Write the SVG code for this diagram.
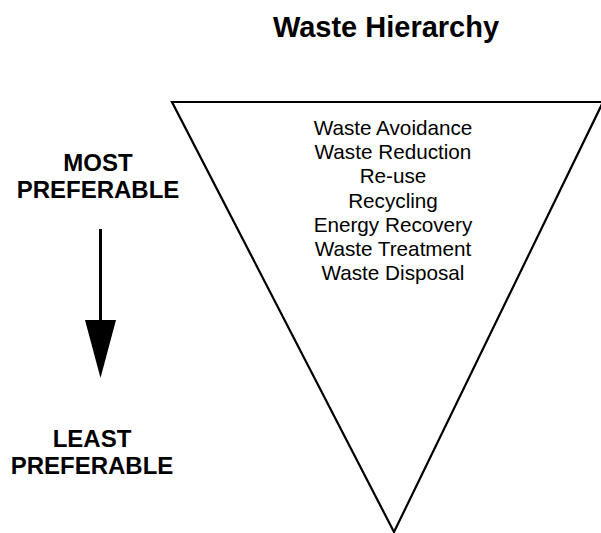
<svg xmlns="http://www.w3.org/2000/svg" width="601" height="533" viewBox="0 0 601 533">
<style>
.title{font-family:"Liberation Sans",Arial,sans-serif;font-weight:bold;font-size:29px;fill:#000;text-anchor:middle}
.side{font-family:"Liberation Sans",Arial,sans-serif;font-weight:bold;font-size:24px;fill:#000;text-anchor:middle}
.item{font-family:"Liberation Sans",Arial,sans-serif;font-size:20.7px;fill:#000;text-anchor:middle}
</style>
<rect width="601" height="533" fill="#fff"/>
<text class="title" x="386" y="37">Waste Hierarchy</text>
<g id="triangle">
<polygon points="172,102 603,102 394,532" fill="#fff" stroke="#000" stroke-width="2.2"/>
<text class="item" x="393" y="135">Waste Avoidance</text>
<text class="item" x="393" y="159">Waste Reduction</text>
<text class="item" x="393" y="183">Re-use</text>
<text class="item" x="393" y="208">Recycling</text>
<text class="item" x="393" y="232">Energy Recovery</text>
<text class="item" x="393" y="256">Waste Treatment</text>
<text class="item" x="393" y="280">Waste Disposal</text>
</g>
<g id="most">
<text class="side" x="98" y="171">MOST</text>
<text class="side" x="98" y="198">PREFERABLE</text>
</g>
<g id="least">
<text class="side" x="92" y="447">LEAST</text>
<text class="side" x="92" y="474">PREFERABLE</text>
</g>
<g id="connectors">
<line x1="100.5" y1="229" x2="100.5" y2="325" stroke="#000" stroke-width="3"/>
<polygon points="85,320 116,320 100.5,378" fill="#000"/>
</g>
</svg>
